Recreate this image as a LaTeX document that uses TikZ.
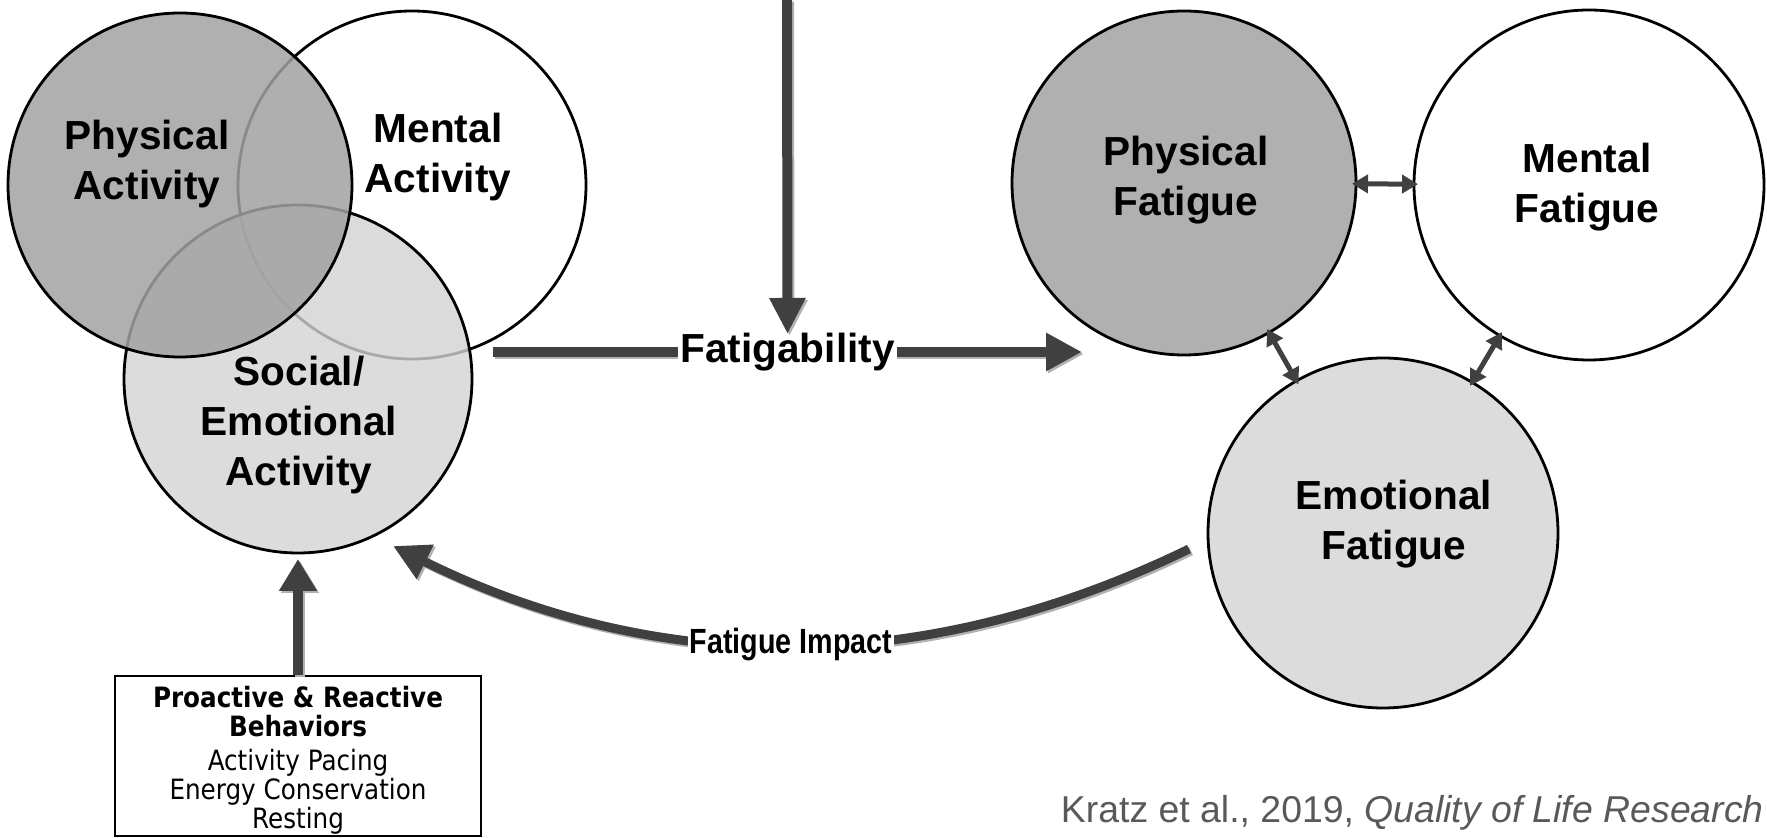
\documentclass[tikz,border=0pt]{standalone}
\usepackage{fontspec}
\setmainfont{Liberation Sans}
\newfontfamily\narrowfont{Liberation Sans}[FakeStretch=0.82]
\newfontfamily\boxfont{DejaVu Sans}[FakeStretch=0.88]
\usetikzlibrary{arrows.meta, positioning, calc}
\definecolor{arrowgray}{HTML}{404040}
\definecolor{pafill}{HTML}{A2A2A2}
\definecolor{sefill}{HTML}{D3D3D3}
\definecolor{pffill}{HTML}{B0B0B0}
\definecolor{effill}{HTML}{DCDCDC}
\definecolor{citegray}{HTML}{595959}

\begin{document}
\begin{tikzpicture}[x=0.5pt, y=-0.5pt,
    bubble/.style={circle, draw=black, line width=1.4pt, inner sep=0pt, outer sep=0pt},
    biglabel/.style={font=\fontsize{20.3}{25}\selectfont\bfseries, align=center, inner sep=0pt},
    fatarrow/.style={line width=5pt, draw=arrowgray, -{Triangle[length=18pt,width=18pt]}},
    fatshadow/.style={fatarrow, draw=black!30, transform canvas={shift={(2,2)}}},
    twoway/.style={line width=2.5pt, draw=arrowgray, shorten <=-2pt, shorten >=-2pt, {Triangle[length=8pt,width=9pt]}-{Triangle[length=8pt,width=9pt]}}]

    \useasboundingbox (0,0) rectangle (1767,838);

    % activity circles
    \node[bubble, fill=white, minimum size=174pt] (MA) at (412,185) {};
    \node[bubble, fill=sefill, fill opacity=0.8, minimum size=174pt] (SE) at (298,379) {};
    \node[bubble, fill=pafill, fill opacity=0.85, minimum size=172pt] (PA) at (180,185) {};

    \node[biglabel] (PAtext) at (147,164) {Physical\\Activity};
    \node[biglabel] (MAtext) at (438,157) {Mental\\Activity};
    \node[biglabel] (SEtext) at (299,425) {Social/\\Emotional\\Activity};

    % fatigue circles
    \node[bubble, fill=pffill, minimum size=172pt] (PF) at (1184,183) {};
    \node[bubble, fill=white, minimum size=175pt] (MF) at (1589,185) {};
    \node[bubble, fill=effill, minimum size=175pt] (EF) at (1383,533) {};

    \node[biglabel] (PFtext) at (1186,180) {Physical\\Fatigue};
    \node[biglabel] (MFtext) at (1587,187) {Mental\\Fatigue};
    \node[biglabel] (EFtext) at (1394,524) {Emotional\\Fatigue};

    \draw[twoway] (PF) -- (MF);
    \draw[twoway] (PF) -- (EF);
    \draw[twoway] (MF) -- (EF);

    %%%%%%%%%%%%%%%%%%%%%%%%%%%%%%%%%%%%%%%%%%%%%%%%%%%%%%%%%%%%%
    \coordinate (fstart) at (493,352);
    \coordinate (ftip) at (1082,352);
    \draw[fatshadow] (fstart) -- (ftip);
    \draw[fatarrow] (fstart) -- node[fill=white, biglabel, inner sep=1pt] (fatig) {Fatigability} (ftip);

    \coordinate (ttop) at (787,0);
    \draw[fatshadow, shorten >=-4pt, -{Triangle[length=18pt,width=17pt]}] (ttop) -- (fatig.north);
    \draw[fatarrow, shorten >=-4pt, -{Triangle[length=18pt,width=17pt]}] (ttop) -- (fatig.north);

    % fatigue impact
    \coordinate (istart) at (1189,549);
    \coordinate (itip) at (393,546);
    \draw[fatshadow, line width=4.5pt] (istart) .. controls (924,678) and (658,677) .. (itip);
    \draw[fatarrow, line width=4.5pt] (istart) .. controls (924,678) and (658,677) .. node[pos=0.5, fill=white, font=\narrowfont\bfseries\fontsize{17.5}{20}\selectfont, inner sep=1pt] (impact) {Fatigue Impact} (itip);

    % behaviors box
    \node[draw=black, line width=1pt, minimum width=183pt, minimum height=80pt, inner sep=0pt, align=center, font=\boxfont\fontsize{14}{14.6}\selectfont] (behav) at (298,756)
        {\rule{0pt}{15pt}\textbf{Proactive \& Reactive}\\\textbf{Behaviors}\\[2pt]Activity Pacing\\Energy Conservation\\Resting};
    \draw[fatshadow, shorten >=3pt, -{Triangle[length=16pt,width=18pt]}] (behav.north) -- (SE.south);
    \draw[fatarrow, shorten >=3pt, -{Triangle[length=16pt,width=18pt]}] (behav.north) -- (SE.south);

    \node[anchor=east, text=citegray, font=\fontsize{18.7}{20}\selectfont, inner sep=0pt] (cite) at (1764,813)
        {Kratz et al., 2019, \textit{Quality of Life Research}};

\end{tikzpicture}
\end{document}
